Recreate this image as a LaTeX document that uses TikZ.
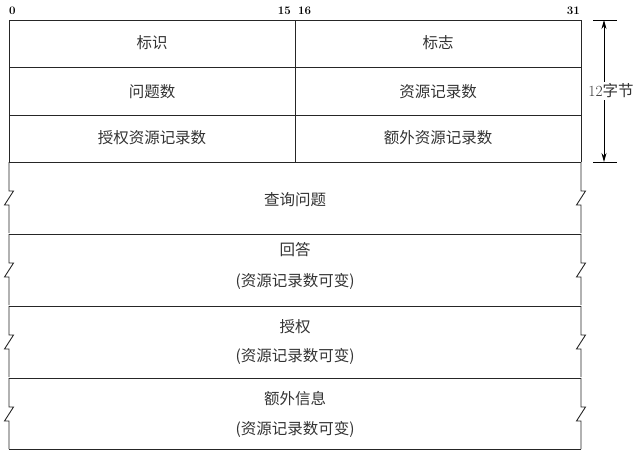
\documentclass[tikz,border=0pt]{standalone}
\usepackage{fontspec}
\newfontfamily\cjk{Noto Sans CJK SC}
\usetikzlibrary{arrows.meta}
\begin{document}
\begin{tikzpicture}[x=1pt,y=-1pt,
  frame/.style={line width=0.9pt,black!85},
  cell/.style={font=\cjk\fontsize{15.5}{18}\selectfont,text=black!80,inner sep=0pt},
  bitnum/.style={font=\bfseries\fontsize{11.5}{13}\selectfont,inner sep=0pt},
  dim/.style={line width=0.8pt,-{Stealth[length=9pt,width=5pt]}}]
\useasboundingbox (0,0) rectangle (641,455);
% fixed rows
\draw[frame] (9,20) -- (581,20);
\draw[frame] (9,20) -- (9,162);
\draw[frame] (581,20) -- (581,162);
\draw[frame] (295,20) -- (295,162);
\foreach \y in {67,115,162,234,306,378,449} \draw[frame] (9,\y) -- (581,\y);
% variable sections with break marks
\foreach \t in {162,234,306,378}{
  \draw[frame] (9,\t) -- (9,\t+29) -- (13.5,\t+29) -- (4.5,\t+43) -- (9,\t+43) -- (9,\t+71);
  \draw[frame] (581,\t) -- (581,\t+29) -- (585.5,\t+29) -- (576.5,\t+43) -- (581,\t+43) -- (581,\t+71);
}
% bit numbers
\node[bitnum,anchor=base west] (b0) at (9,14) {0};
\node[bitnum,anchor=base east] (b15) at (291,14) {15};
\node[bitnum,anchor=base west] (b16) at (298,14) {16};
\node[bitnum,anchor=base east] (b31) at (580,14) {31};
% cells
\node[cell] (id) at (152,43) {标识};
\node[cell] (flag) at (438,43) {标志};
\node[cell] (qn) at (152,92) {问题数};
\node[cell] (rrn) at (438,92) {资源记录数};
\node[cell] (arn) at (152,138) {授权资源记录数};
\node[cell] (xrn) at (438,138) {额外资源记录数};
\node[cell] (q) at (295,200) {查询问题};
\node[cell] (ans) at (295,250) {回答};
\node[cell] (ansv) at (295,281) {(资源记录数可变)};
\node[cell] (auth) at (295,327) {授权};
\node[cell] (authv) at (295,356) {(资源记录数可变)};
\node[cell] (add) at (295,399) {额外信息};
\node[cell] (addv) at (295,429) {(资源记录数可变)};
% size dimension
\coordinate (dt) at (604,20);
\coordinate (db) at (604,162);
\draw[line width=0.8pt] (593,20) -- (617,20);
\draw[line width=0.8pt] (593,162) -- (617,162);
\node[cell,fill=white,inner sep=2pt] (sz) at (611,91) {\fontsize{15.5}{18}\selectfont\rmfamily 12\cjk 字节};
\draw[dim] (sz.north -| dt) -- (dt);
\draw[dim] (sz.south -| db) -- (db);
\end{tikzpicture}
\end{document}
